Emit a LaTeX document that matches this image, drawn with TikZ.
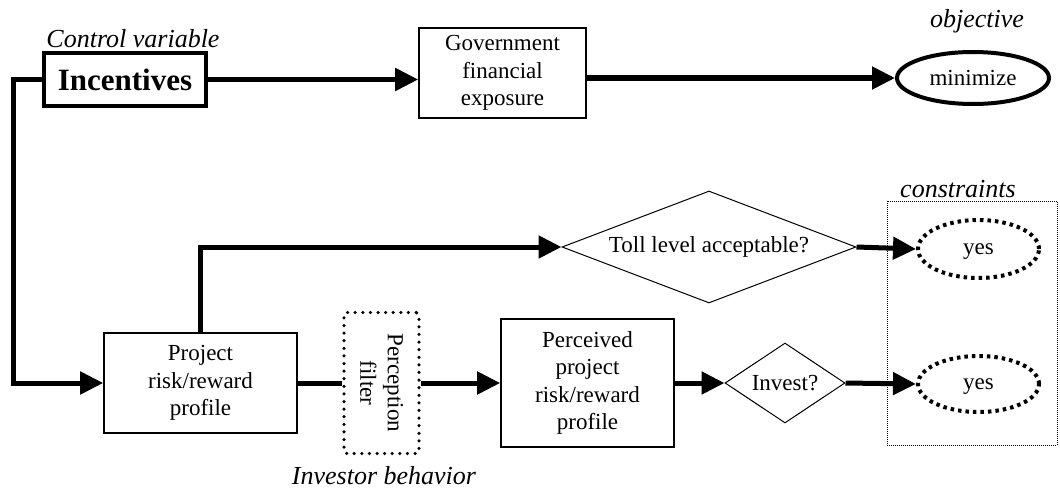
\documentclass[tikz,border=0pt]{standalone}
\usepackage{fontspec}
\setmainfont{Liberation Serif}
\usetikzlibrary{arrows.meta,shapes.geometric}

\tikzset{
  txt/.style={font=\fontsize{23}{27.5}\selectfont, align=center, inner sep=0pt},
  lbl/.style={font=\fontsize{26}{30}\selectfont\itshape, inner sep=0pt},
  boxnode/.style={txt, draw, line width=1.6pt, minimum width=#1},
  flow/.style={line width=5pt, -{Triangle[length=23pt,width=22pt]}},
  link/.style={line width=5pt},
  dotline/.style={line width=4pt, dash pattern=on 3.5pt off 4pt},
  dia/.style={font=\fontsize{23}{27.5}\selectfont, draw, diamond, line width=1pt, inner sep=0pt},
  yesnode/.style={font=\fontsize{23}{27.5}\selectfont, inner sep=0pt, draw, ellipse, dotline,
                  text height=12pt, text depth=1.5pt},
}

\begin{document}
\begin{tikzpicture}[x=1pt, y=-1pt]
  \useasboundingbox (0,0) rectangle (1060,495);

  % control variable
  \node[draw, line width=4.5pt, minimum width=162pt, minimum height=53pt,
        font=\fontsize{31}{34}\selectfont\bfseries, inner sep=0pt]
        (inc) at (125,79.5) {Incentives};
  \node[lbl] (lcv) at (133,39) {Control variable};

  % objective branch
  \node[boxnode=167pt, minimum height=90pt] (gov) at (502.5,73)
        {Government\\financial\\exposure};
  \node[txt, draw, ellipse, line width=4pt, minimum width=152pt, minimum height=52pt]
        (min) at (973,78) {minimize};
  \node[lbl] (lobj) at (977,21) {objective};

  % investor side
  \node[boxnode=193pt, minimum height=100pt] (proj) at (200.5,383)
        {Project\\risk/reward\\profile};
  \node[draw, rounded corners=3pt, line width=3.5pt, line cap=round,
        dash pattern=on 0pt off 7.6pt, minimum width=75pt, minimum height=141pt]
        (filt) at (381.5,383) {};
  \node[txt, rotate=-90] (filttxt) at (filt.center) {Perception\\filter};
  \node[boxnode=173pt, minimum height=128pt] (perc) at (587.5,383)
        {Perceived\\project\\risk/reward\\profile};
  \node[lbl] (linv) at (384,476) {Investor behavior};

  % decisions
  \node[dia, aspect=2.62, minimum width=294pt, minimum height=112pt] (toll) at (709,247)
        {Toll level acceptable?};
  \node[dia, aspect=1.5, minimum width=120pt, minimum height=80pt] (inv) at (785,383)
        {Invest?};

  % constraints
  \draw[line width=1pt, dash pattern=on 1pt off 1pt]
        (887,201) coordinate (cnw) rectangle (1057,445) coordinate (cse);
  \node[lbl] (lcon) at (958,189) {constraints};
  \node[yesnode, minimum width=121pt, minimum height=58pt] (yes1) at (978.5,249) {yes};
  \node[yesnode, minimum width=121pt, minimum height=56pt] (yes2) at (978.5,384) {yes};

  % connectors
  \draw[flow] (inc.east) -- (inc.east -| gov.west);
  \draw[flow] (gov.east |- min.west) -- (min.west);
  \draw[flow] (inc.west) -- ++(-28,0) |- (proj.west);
  \draw[flow] (proj.north) |- (toll.west);
  \draw[flow] (toll.east) -- (yes1.west);
  \draw[link] (proj.east) -- (filt.west);
  \draw[flow] (filt.east) -- (perc.west);
  \draw[flow] (perc.east) -- (inv.west);
  \draw[flow] (inv.east) -- (yes2.west);
\end{tikzpicture}
\end{document}
